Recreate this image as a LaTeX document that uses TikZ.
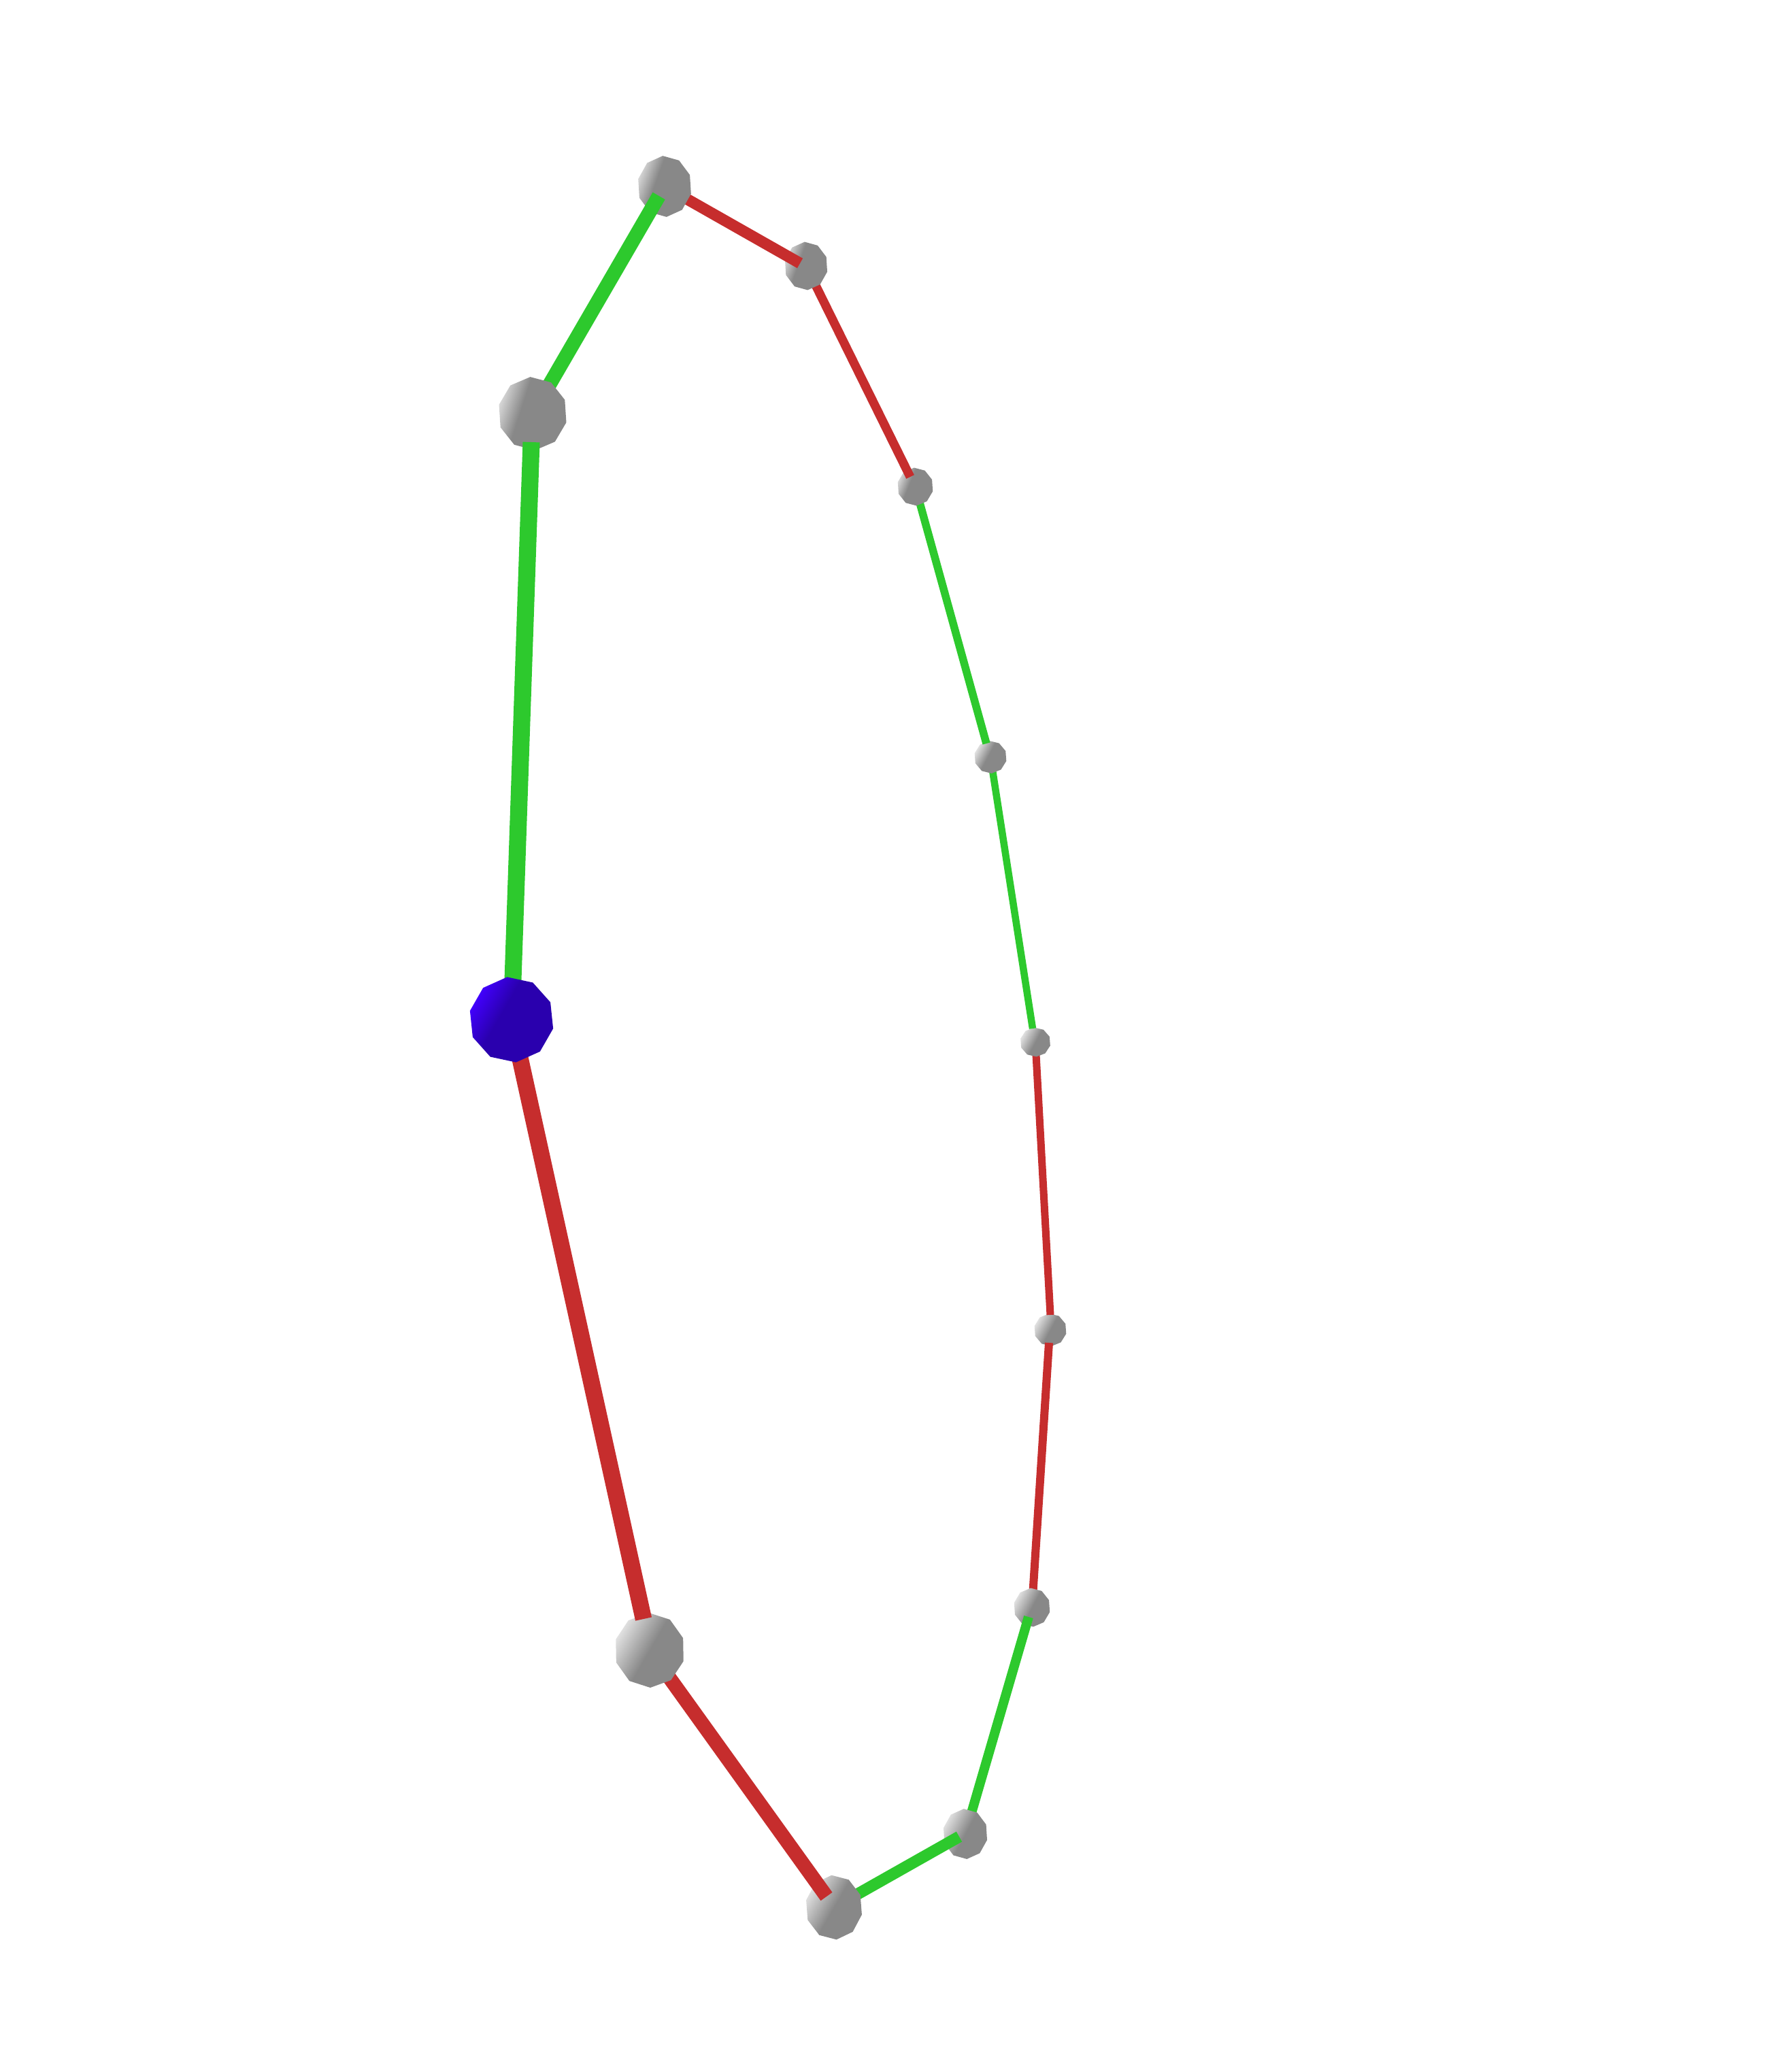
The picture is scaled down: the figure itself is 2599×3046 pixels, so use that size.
\documentclass[tikz,border=0pt]{standalone}
\usetikzlibrary{shapes.geometric}
\definecolor{edgegreen}{HTML}{2DC92D}
\definecolor{edgered}{HTML}{C62D2D}
\definecolor{ballgray}{HTML}{888888}
\definecolor{balllight}{HTML}{E2E2E2}
\definecolor{balllighttop}{HTML}{D6D6D6}
\definecolor{ballblue}{HTML}{2A00AE}
\definecolor{ballbright}{HTML}{4200FF}
\pgfdeclarehorizontalshading{graycentre}{100bp}{color(0bp)=(balllight); color(25bp)=(balllight); color(50bp)=(ballgray); color(100bp)=(ballgray)}
\pgfdeclarehorizontalshading{graymid}{100bp}{color(0bp)=(balllight); color(25bp)=(balllight); color(46bp)=(ballgray); color(100bp)=(ballgray)}
\pgfdeclarehorizontalshading{grayleft}{100bp}{color(0bp)=(balllighttop); color(25bp)=(balllighttop); color(41bp)=(ballgray); color(100bp)=(ballgray)}
\pgfdeclarehorizontalshading{blueleft}{100bp}{color(0bp)=(ballbright); color(25bp)=(ballbright); color(43bp)=(ballblue); color(100bp)=(ballblue)}
\pgfdeclarelayer{l0}\pgfdeclarelayer{l1}\pgfdeclarelayer{l2}\pgfdeclarelayer{l3}
\pgfdeclarelayer{l4}\pgfdeclarelayer{l5}\pgfdeclarelayer{l6}\pgfdeclarelayer{l7}
\pgfdeclarelayer{l8}\pgfdeclarelayer{l9}\pgfdeclarelayer{l10}\pgfdeclarelayer{l11}
\pgfdeclarelayer{l12}\pgfdeclarelayer{l13}\pgfdeclarelayer{l14}
\pgfsetlayers{main,l0,l1,l2,l3,l4,l5,l6,l7,l8,l9,l10,l11,l12,l13,l14}
\tikzset{
  ball/.style n args={4}{shape=regular polygon, regular polygon sides=10, draw=none,
    inner sep=0pt, minimum size=100pt, transform shape, xscale=#1/50, yscale=#2/50,
    shape border rotate=#3, shading angle=#4},
  greenedge/.style={draw=edgegreen, line cap=butt},
  rededge/.style={draw=edgered, line cap=butt}
}
\begin{document}
\begin{tikzpicture}[x=1pt,y=1pt]
\useasboundingbox (0,0) rectangle (2599,-3046);
\coordinate (tab) at (781,-650);
\coordinate (tbc) at (968.6,-288);
\coordinate (tcd) at (1176,-387);
\coordinate (tde) at (1338,-701);
\coordinate (tef) at (1450,-1093);
\coordinate (tfg) at (1518,-1512);
\coordinate (tgh) at (1544,-1933);
\coordinate (tih) at (1542,-1974);
\coordinate (tji) at (1512,-2377);
\coordinate (tkj) at (1410,-2700);
\coordinate (tlk) at (1215,-2788);
\coordinate (tal) at (946,-2380);
\begin{pgfonlayer}{l0}
\node[ball={24}{24}{-14}{-28}, shading=graycentre] (h) at (1544,-1955) {};
\end{pgfonlayer}
\begin{pgfonlayer}{l2}
\node[ball={22.5}{21.5}{-14}{-28}, shading=graycentre] (g) at (1522,-1532) {};
\node[ball={27}{28.5}{-14}{-28}, shading=graycentre] (i) at (1517,-2363) {};
\end{pgfonlayer}
\begin{pgfonlayer}{l4}
\node[ball={24}{24}{-14}{-28}, shading=graymid] (f) at (1456,-1113) {};
\node[ball={33}{37}{-14}{-28}, shading=graycentre] (j) at (1419,-2696) {};
\end{pgfonlayer}
\begin{pgfonlayer}{l6}
\node[ball={26.5}{28}{-14}{-22}, shading=grayleft] (e) at (1345.5,-715.5) {};
\node[ball={42}{47.5}{-13}{-30}, shading=graycentre] (k) at (1226,-2804) {};
\end{pgfonlayer}
\begin{pgfonlayer}{l8}
\node[ball={32}{35.5}{-14}{-20}, shading=grayleft] (d) at (1185,-391) {};
\node[ball={52}{55}{-17}{-30}, shading=graycentre] (l) at (955,-2426) {};
\end{pgfonlayer}
\begin{pgfonlayer}{l10}
\node[ball={40}{45}{-14}{-20}, shading=grayleft] (c) at (977,-274) {};
\end{pgfonlayer}
\begin{pgfonlayer}{l12}
\node[ball={51}{54}{-14}{-18}, shading=grayleft] (b) at (783,-608) {};
\end{pgfonlayer}
\begin{pgfonlayer}{l14}
\node[ball={62.5}{63}{-12}{-30}, shading=blueleft] (a) at (752,-1499) {};
\end{pgfonlayer}
\begin{pgfonlayer}{l1}
\draw[rededge, line width=11pt] (g.center) -- (tgh);
\draw[rededge, line width=12pt] (i.center) -- (tih);
\end{pgfonlayer}
\begin{pgfonlayer}{l3}
\draw[greenedge, line width=10.5pt] (f.center) -- (tfg);
\draw[greenedge, line width=14pt] (j.center) -- (tji);
\end{pgfonlayer}
\begin{pgfonlayer}{l5}
\draw[greenedge, line width=11.5pt] (e.center) -- (tef);
\draw[greenedge, line width=17pt] (k.center) -- (tkj);
\end{pgfonlayer}
\begin{pgfonlayer}{l7}
\draw[rededge, line width=13pt] (d.center) -- (tde);
\draw[rededge, line width=21pt] (l.center) -- (tlk);
\end{pgfonlayer}
\begin{pgfonlayer}{l9}
\draw[rededge, line width=16.5pt] (c.center) -- (tcd);
\draw[rededge, line width=24.5pt] (a.center) -- (tal);
\end{pgfonlayer}
\begin{pgfonlayer}{l11}
\draw[greenedge, line width=21pt] (b.center) -- (tbc);
\end{pgfonlayer}
\begin{pgfonlayer}{l13}
\draw[greenedge, line width=25pt] (a.center) -- (tab);
\end{pgfonlayer}
\end{tikzpicture}
\end{document}
